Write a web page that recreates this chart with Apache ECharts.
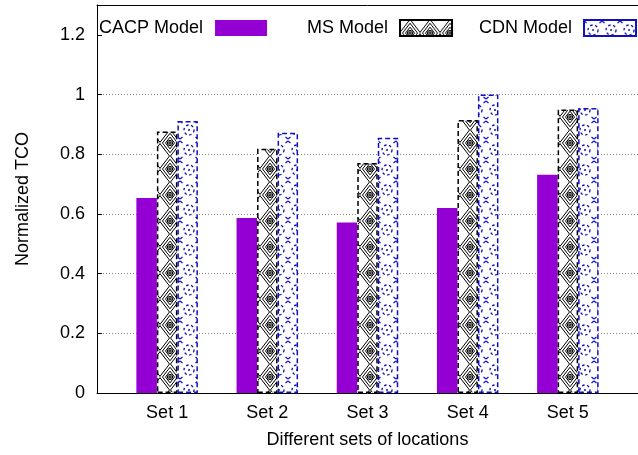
<!DOCTYPE html>
<html>
<head>
<meta charset="utf-8">
<script src="https://cdn.jsdelivr.net/npm/echarts@6/dist/echarts.min.js"></script>
<style>html,body{margin:0;padding:0;background:#fff}#c{width:638px;height:455px}</style>
</head>
<body>
<div id="c"></div>
<script>
const categories = ['Set 1', 'Set 2', 'Set 3', 'Set 4', 'Set 5'];
const cacpValues = [0.653, 0.586, 0.571, 0.620, 0.731];
const msValues   = [0.876, 0.818, 0.771, 0.915, 0.950];
const cdnValues  = [0.911, 0.872, 0.855, 1.000, 0.955];
const seriesNames = ['CACP Model', 'MS Model', 'CDN Model'];
const yTicks = [0, 0.2, 0.4, 0.6, 0.8, 1, 1.2];

function makeMsTile() {
  const c = document.createElement('canvas');
  c.width = 20; c.height = 26;
  const g = c.getContext('2d');
  g.fillStyle = '#fff'; g.fillRect(0, 0, 20, 26);
  g.strokeStyle = '#000'; g.lineWidth = 1;
  [0.45, 0.75, 1.05].forEach(k => {
    g.beginPath();
    g.moveTo(10, 13 - 13 * k); g.lineTo(10 + 10 * k, 13);
    g.lineTo(10, 13 + 13 * k); g.lineTo(10 - 10 * k, 13); g.closePath();
    g.stroke();
  });
  g.beginPath(); g.arc(10, 13, 2.6, 0, Math.PI * 2); g.stroke();
  g.beginPath(); g.moveTo(7.4, 13); g.lineTo(12.6, 13); g.moveTo(10, 10.4); g.lineTo(10, 15.6); g.stroke();
  return c;
}
function makeCdnTile() {
  const c = document.createElement('canvas');
  c.width = 18; c.height = 20;
  const g = c.getContext('2d');
  g.fillStyle = '#fff'; g.fillRect(0, 0, 18, 20);
  g.strokeStyle = '#1010c0'; g.lineWidth = 1.3;
  g.setLineDash([2.5, 2.5]);
  g.beginPath(); g.arc(9, 10, 5, 0, Math.PI * 2); g.stroke();
  g.setLineDash([]);
  g.beginPath(); g.moveTo(0, 1); g.lineTo(2.5, 3); g.moveTo(18, 1); g.lineTo(15.5, 3);
  g.moveTo(0, 19); g.lineTo(2.5, 17); g.moveTo(18, 19); g.lineTo(15.5, 17);
  g.moveTo(8, 10); g.lineTo(10, 10); g.stroke();
  return c;
}
const msPattern = { image: makeMsTile(), repeat: 'repeat' };
const cdnPattern = { image: makeCdnTile(), repeat: 'repeat' };

const toPairs = arr => arr.map((v, i) => [i, v]);
const chart = echarts.init(document.getElementById('c'), null, { renderer: 'canvas' });
const font = 'Liberation Sans, Arial, Helvetica, sans-serif';
const legendBase = {
  orient: 'horizontal', align: 'right', padding: 0, top: 19,
  itemWidth: 52, itemHeight: 16, icon: 'rect',
  textStyle: { fontSize: 18, color: '#000', fontFamily: font, padding: [0, 7, 0, 0] },
  selectedMode: false
};
chart.setOption({
  animation: false,
  backgroundColor: '#fff',
  textStyle: { fontFamily: font },
  legend: [
    Object.assign({}, legendBase, { left: 99, data: [seriesNames[0]] }),
    Object.assign({}, legendBase, { left: 307, data: [seriesNames[1]] }),
    Object.assign({}, legendBase, { left: 479, data: [seriesNames[2]] })
  ],
  grid: { left: 97, top: 5, width: 548, bottom: 62, containLabel: false },
  xAxis: [{
    type: 'value', min: -0.7, max: 4.7,
    name: 'Different sets of locations', nameLocation: 'middle', nameGap: 38,
    nameTextStyle: { fontSize: 18, color: '#000', fontFamily: font },
    axisLine: { show: true, onZero: false, lineStyle: { color: '#000', width: 1 } },
    axisTick: { show: false },
    splitLine: { show: false },
    axisLabel: {
      customValues: [0, 1, 2, 3, 4],
      formatter: v => categories[Math.round(v)],
      fontSize: 18, color: '#000', margin: 11, fontFamily: font
    }
  }, {
    type: 'value', position: 'top', min: -0.7, max: 4.7,
    axisLine: { show: true, onZero: false, lineStyle: { color: '#000', width: 1 } },
    axisTick: { show: false }, axisLabel: { show: false }, splitLine: { show: false }
  }],
  yAxis: {
    type: 'value', min: 0, max: 1.3, interval: 0.2,
    name: 'Normalized TCO', nameLocation: 'middle', nameGap: 65,
    nameTextStyle: { fontSize: 18, color: '#000', fontFamily: font },
    axisLine: { show: true, onZero: false, lineStyle: { color: '#000', width: 1 } },
    axisTick: { show: true, inside: true, length: 5, lineStyle: { color: '#000' } },
    axisLabel: {
      customValues: yTicks,
      formatter: v => String(v),
      fontSize: 18, color: '#000', margin: 12, fontFamily: font
    },
    splitLine: {
      show: true,
      lineStyle: { color: ['transparent', '#888', '#888', '#888', '#888', '#888', 'transparent', 'transparent'], type: [1, 2], width: 1 }
    }
  },
  series: [
    {
      name: seriesNames[0], type: 'bar', data: toPairs(cacpValues),
      barWidth: 20.5, barGap: '0%',
      itemStyle: { color: '#9400d3' }
    },
    {
      name: seriesNames[1], type: 'bar', data: toPairs(msValues),
      barWidth: 20.5, barGap: '0%',
      itemStyle: { color: msPattern, borderColor: '#000', borderWidth: 1.5, borderType: [5, 3] }
    },
    {
      name: seriesNames[2], type: 'bar', data: toPairs(cdnValues),
      barWidth: 20.5, barGap: '0%',
      itemStyle: { color: cdnPattern, borderColor: '#1010c0', borderWidth: 1.5, borderType: [5, 3] }
    }
  ]
});
</script>
</body>
</html>
